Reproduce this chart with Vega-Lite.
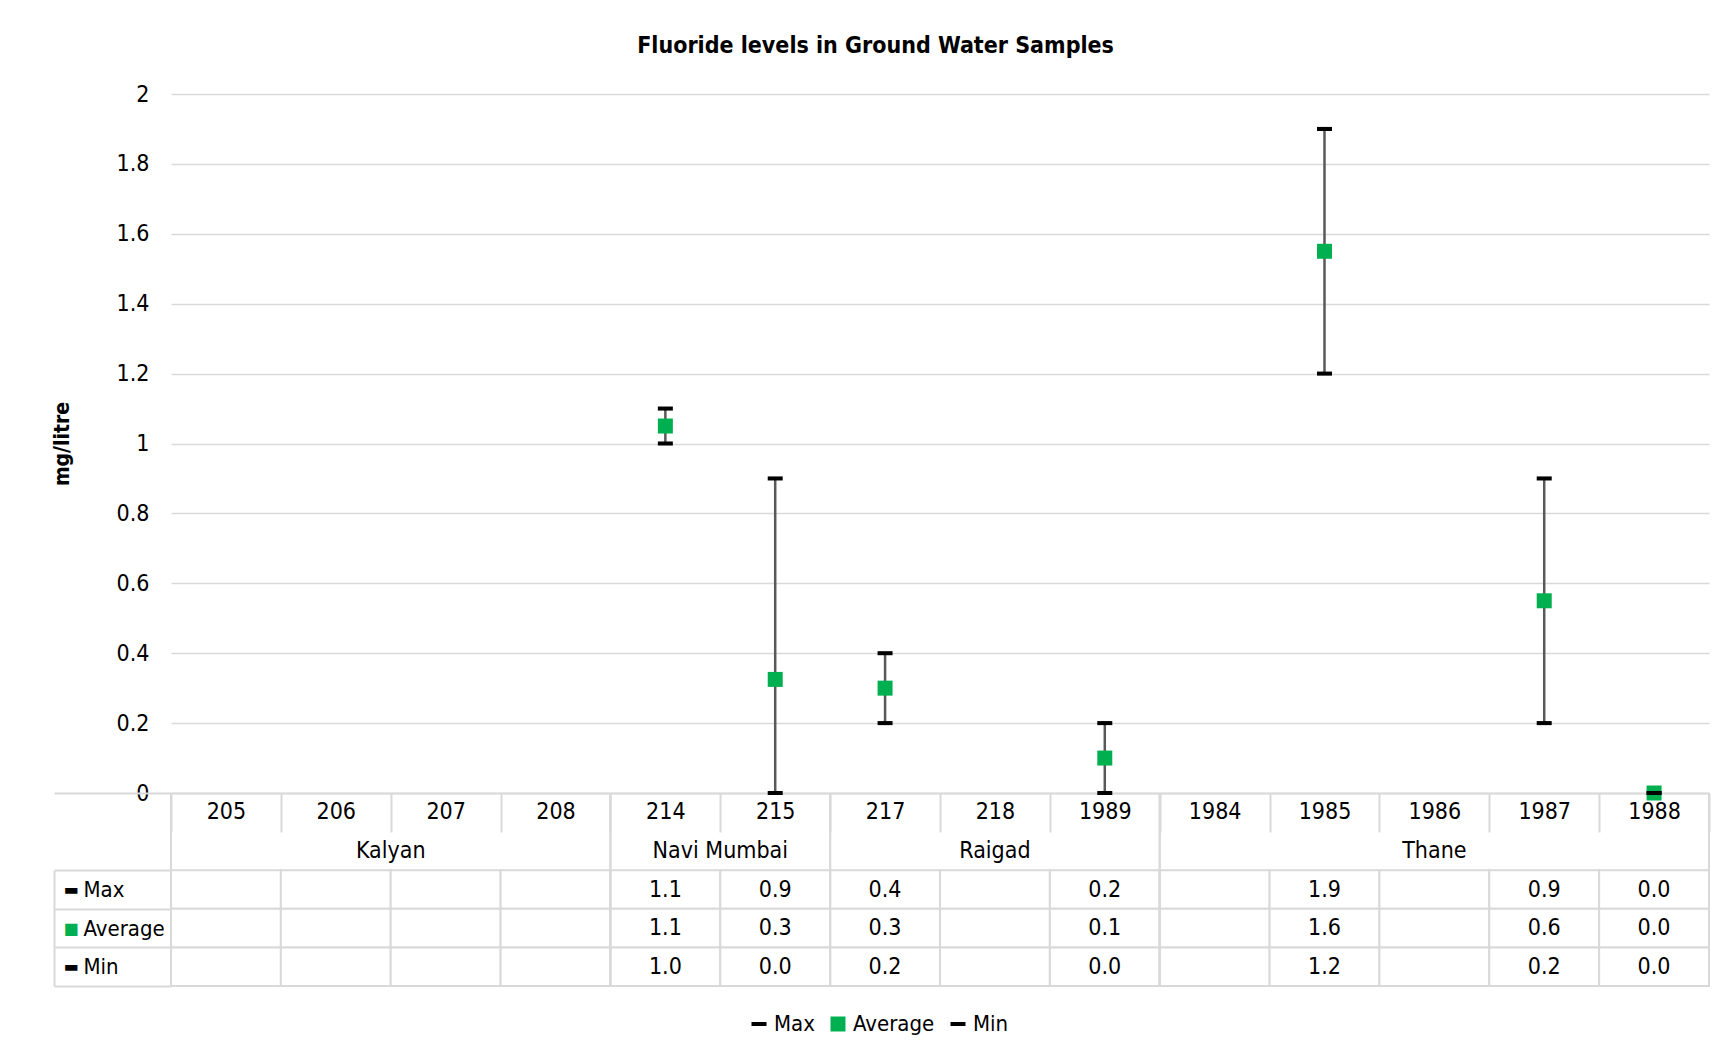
{
  "$schema": "https://vega.github.io/schema/vega-lite/v6.json",
  "padding": {"left": 51, "top": 35, "right": 10, "bottom": 10},
  "background": "white",
  "title": {"text": "Fluoride levels in Ground Water Samples", "fontSize": 23, "fontWeight": "bold", "anchor": "middle", "frame": "bounds", "offset": 25, "dx": -5, "color": "black"},
  "config": {
    "font": "DejaVu Sans Condensed, Liberation Sans, sans-serif",
    "view": {"stroke": null},
    "axis": {"labelColor": "black", "titleColor": "black"},
    "text": {"color": "black"}
  },
  "datasets": {
    "samples": [
      {"district": "Kalyan", "sample": "205", "Max": null, "Average": null, "Min": null},
      {"district": "Kalyan", "sample": "206", "Max": null, "Average": null, "Min": null},
      {"district": "Kalyan", "sample": "207", "Max": null, "Average": null, "Min": null},
      {"district": "Kalyan", "sample": "208", "Max": null, "Average": null, "Min": null},
      {"district": "Navi Mumbai", "sample": "214", "Max": 1.1, "Average": 1.05, "Min": 1.0},
      {"district": "Navi Mumbai", "sample": "215", "Max": 0.9, "Average": 0.325, "Min": 0.0},
      {"district": "Raigad", "sample": "217", "Max": 0.4, "Average": 0.3, "Min": 0.2},
      {"district": "Raigad", "sample": "218", "Max": null, "Average": null, "Min": null},
      {"district": "Raigad", "sample": "1989", "Max": 0.2, "Average": 0.1, "Min": 0.0},
      {"district": "Thane", "sample": "1984", "Max": null, "Average": null, "Min": null},
      {"district": "Thane", "sample": "1985", "Max": 1.9, "Average": 1.55, "Min": 1.2},
      {"district": "Thane", "sample": "1986", "Max": null, "Average": null, "Min": null},
      {"district": "Thane", "sample": "1987", "Max": 0.9, "Average": 0.55, "Min": 0.2},
      {"district": "Thane", "sample": "1988", "Max": 0.0, "Average": 0.0, "Min": 0.0}
    ],
    "districts": [
      {"district": "Kalyan", "first": "205", "last": "208", "mid": "206", "n": 4},
      {"district": "Navi Mumbai", "first": "214", "last": "215", "mid": "214", "n": 2},
      {"district": "Raigad", "first": "217", "last": "1989", "mid": "218", "n": 3},
      {"district": "Thane", "first": "1984", "last": "1988", "mid": "1986", "n": 5}
    ]
  },
  "spacing": 0,
  "bounds": "flush",
  "vconcat": [
    {
      "width": 1538,
      "height": 699,
      "data": {"name": "samples"},
      "encoding": {
        "x": {
          "field": "sample", "type": "nominal",
          "scale": {"domain": ["205","206","207","208","214","215","217","218","1989","1984","1985","1986","1987","1988"], "paddingInner": 0, "paddingOuter": 0},
          "axis": {"title": null, "labelAngle": 0, "labelFontSize": 23, "labelPadding": -32, "tickBand": "extent", "tickSize": 39, "tickColor": "#d9d9d9", "tickWidth": 2, "domainColor": "#d9d9d9", "domainWidth": 2}
        }
      },
      "layer": [
        {
          "transform": [{"filter": {"field": "Max", "valid": true}}],
          "mark": {"type": "rule", "color": "#595959", "strokeWidth": 2.5},
          "encoding": {
            "y": {
              "field": "Min", "type": "quantitative",
              "scale": {"domain": [0, 2], "nice": false},
              "axis": {"title": "mg/litre", "titleFontSize": 21, "titleFontWeight": "bold", "titlePadding": 44, "values": [0, 0.2, 0.4, 0.6, 0.8, 1, 1.2, 1.4, 1.6, 1.8, 2], "format": "~g", "labelFontSize": 23, "labelPadding": 22, "domain": false, "ticks": false, "gridColor": "#d9d9d9", "gridWidth": 1.5}
            },
            "y2": {"field": "Max"}
          }
        },
        {
          "transform": [
            {"fold": ["Max", "Average", "Min"], "as": ["series", "value"]},
            {"filter": {"field": "value", "valid": true}}
          ],
          "mark": {"type": "point", "filled": true, "opacity": 1, "size": 225, "strokeWidth": 0},
          "encoding": {
            "y": {"field": "value", "type": "quantitative", "title": "mg/litre"},
            "color": {
              "field": "series", "type": "nominal",
              "scale": {"domain": ["Max", "Average", "Min"], "range": ["#000000", "#00b050", "#000000"]},
              "legend": {"title": null, "orient": "none", "legendX": 577, "legendY": 919, "direction": "horizontal", "labelFontSize": 22, "symbolSize": 225, "columnPadding": 12, "labelOffset": 4, "padding": 0, "symbolStrokeWidth": 0}
            },
            "shape": {
              "field": "series", "type": "nominal",
              "scale": {"domain": ["Max", "Average", "Min"], "range": ["M-1,-0.27L1,-0.27L1,0.27L-1,0.27Z", "square", "M-1,-0.27L1,-0.27L1,0.27L-1,0.27Z"]},
              "legend": {"title": null, "orient": "none", "legendX": 577, "legendY": 919, "direction": "horizontal", "labelFontSize": 22, "symbolSize": 225, "columnPadding": 12, "labelOffset": 4, "padding": 0, "symbolStrokeWidth": 0}
            }
          }
        }
      ]
    },
    {
      "width": 1538,
      "height": 193,
      "layer": [
        {
          "layer": [
            {
              "data": {"name": "samples"},
              "transform": [{"fold": ["Max", "Average", "Min"], "as": ["series", "value"]}],
              "mark": {"type": "rect", "fill": "white", "stroke": "#d9d9d9", "strokeWidth": 2},
              "encoding": {
                "x": {"field": "sample", "type": "nominal", "scale": {"domain": ["205","206","207","208","214","215","217","218","1989","1984","1985","1986","1987","1988"], "paddingInner": 0, "paddingOuter": 0}, "axis": null},
                "y": {
                  "field": "series", "type": "nominal",
                  "scale": {"domain": ["cat", "district", "Max", "Average", "Min"], "paddingInner": 0, "paddingOuter": 0},
                  "axis": {"title": null, "orient": "left", "domain": false, "tickBand": "extent", "ticks": true, "tickSize": 117, "tickWidth": 2, "tickColor": {"condition": {"test": "datum.value == 'cat'", "value": "transparent"}, "value": "#d9d9d9"}, "labelExpr": "datum.value == 'cat' || datum.value == 'district' ? '' : datum.value", "labelAlign": "left", "labelPadding": -29, "labelFontSize": 22}
                }
              }
            },
            {
              "data": {"name": "districts"},
              "mark": {"type": "rule", "color": "#d9d9d9", "strokeWidth": 2},
              "encoding": {"x": {"field": "first", "type": "nominal", "bandPosition": 0, "axis": null}}
            },
            {
              "data": {"name": "districts"},
              "mark": {"type": "rule", "color": "#d9d9d9", "strokeWidth": 2},
              "encoding": {"x": {"field": "last", "type": "nominal", "bandPosition": 1, "axis": null}}
            },
            {
              "data": {"name": "districts"},
              "transform": [{"filter": "datum.n % 2 == 0"}],
              "mark": {"type": "text", "fontSize": 23},
              "encoding": {
                "x": {"field": "mid", "type": "nominal", "bandPosition": 1, "axis": null},
                "y": {"datum": "district", "type": "nominal"},
                "text": {"field": "district"}
              }
            },
            {
              "data": {"name": "districts"},
              "transform": [{"filter": "datum.n % 2 == 1"}],
              "mark": {"type": "text", "fontSize": 23},
              "encoding": {
                "x": {"field": "mid", "type": "nominal", "bandPosition": 0.5, "axis": null},
                "y": {"datum": "district", "type": "nominal"},
                "text": {"field": "district"}
              }
            }
          ]
        },
        {
          "data": {"name": "samples"},
          "transform": [
            {"fold": ["Max", "Average", "Min"], "as": ["series", "value"]},
            {"filter": {"field": "value", "valid": true}}
          ],
          "mark": {"type": "text", "fontSize": 23},
          "encoding": {
            "x": {"field": "sample", "type": "nominal", "axis": null},
            "y": {
              "field": "series", "type": "nominal",
              "scale": {"domain": ["cat", "district", "Max", "Average", "Min"], "paddingInner": 0, "paddingOuter": 0},
              "axis": {"title": null, "orient": "left", "offset": 117, "domain": true, "domainColor": "#d9d9d9", "domainWidth": 2, "domainDash": [0, 77.2, 1000], "ticks": false, "tickSize": 0, "labelExpr": "datum.value == 'Average' ? '■' : (datum.value == 'Max' || datum.value == 'Min') ? '▬' : ''", "labelColor": {"condition": {"test": "datum.value == 'Average'", "value": "#00b050"}, "value": "#000000"}, "labelAlign": "left", "labelPadding": -9, "labelFontSize": 16, "labelFont": "DejaVu Sans"}
            },
            "text": {"field": "value", "type": "quantitative", "format": ".1f"}
          }
        }
      ],
      "resolve": {"scale": {"y": "independent"}, "axis": {"y": "independent"}}
    }
  ]
}
